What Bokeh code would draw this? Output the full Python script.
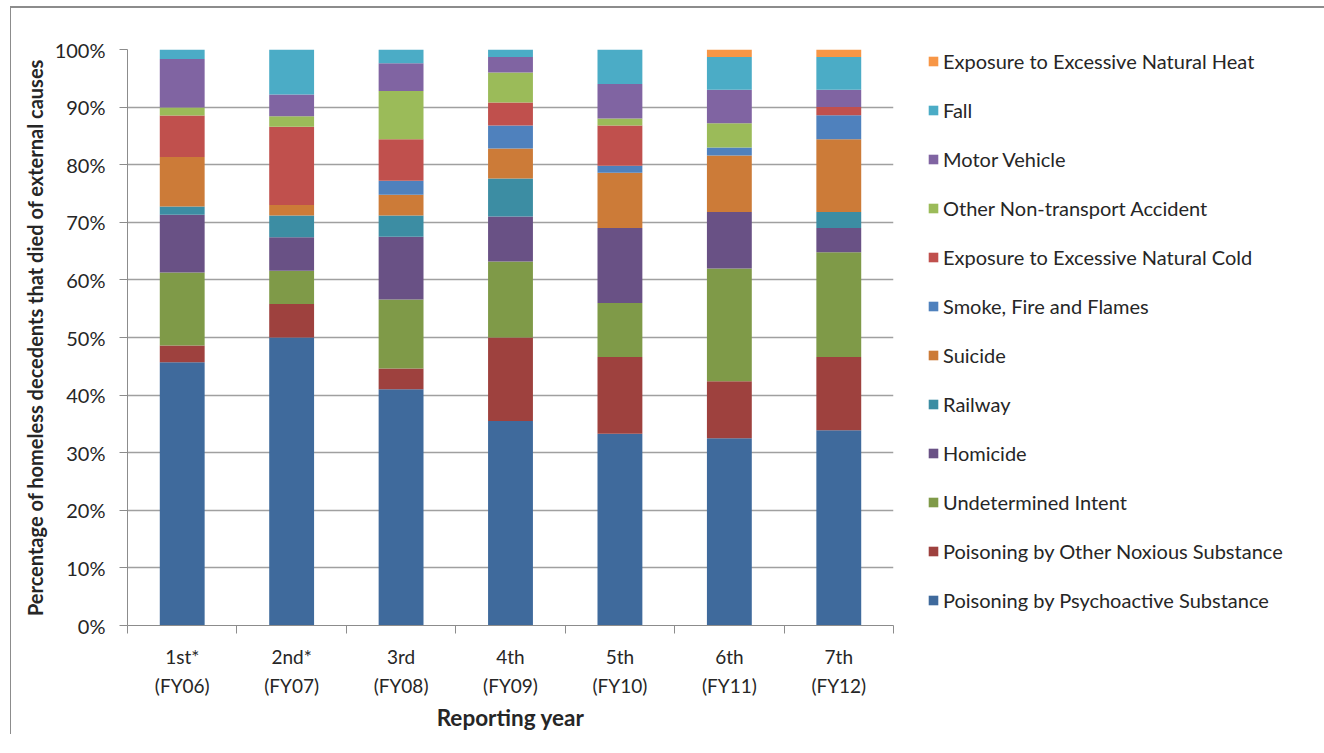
from bokeh.plotting import figure
from bokeh.models import (Range1d, LinearAxis, FixedTicker, PrintfTickFormatter,
                          Legend, LegendItem, ColumnDataSource, Grid)
from bokeh.embed import file_html
from bokeh.resources import INLINE

years = ["1st*\n(FY06)", "2nd*\n(FY07)", "3rd\n(FY08)", "4th\n(FY09)",
         "5th\n(FY10)", "6th\n(FY11)", "7th\n(FY12)"]

# stacked bottom -> top
psychoactive = [45.7, 50.0, 41.0, 35.5, 33.3, 32.5, 33.9]
noxious      = [2.9, 5.8, 3.6, 14.5, 13.3, 9.9, 12.7]
undetermined = [12.7, 5.8, 12.0, 13.2, 9.4, 19.6, 18.2]
homicide     = [10.0, 5.8, 10.9, 7.8, 13.0, 9.8, 4.2]
railway      = [1.45, 3.8, 3.7, 6.6, 0.0, 0.0, 2.8]
suicide      = [8.6, 1.8, 3.6, 5.2, 9.6, 9.8, 12.6]
smoke        = [0.0, 0.0, 2.4, 4.0, 1.2, 1.4, 4.2]
cold         = [7.2, 13.6, 7.2, 4.0, 7.0, 0.0, 1.4]
other_acc    = [1.4, 1.8, 8.4, 5.2, 1.2, 4.2, 0.0]
motor        = [8.4, 3.8, 4.8, 2.7, 6.0, 5.8, 3.0]
fall         = [1.65, 7.8, 2.4, 1.3, 6.0, 5.7, 5.7]
heat         = [0.0, 0.0, 0.0, 0.0, 0.0, 1.3, 1.3]

series_names = ["Poisoning by Psychoactive Substance", "Poisoning by Other Noxious Substance",
                "Undetermined Intent", "Homicide", "Railway", "Suicide",
                "Smoke, Fire and Flames", "Exposure to Excessive Natural Cold",
                "Other Non-transport Accident", "Motor Vehicle", "Fall",
                "Exposure to Excessive Natural Heat"]
series_vals = [psychoactive, noxious, undetermined, homicide, railway, suicide,
               smoke, cold, other_acc, motor, fall, heat]
colors = ["#3F6A9C", "#9E413E", "#7F9A48", "#695185", "#3C8DA3", "#CC7B38",
          "#4F81BD", "#C0504D", "#9BBB59", "#8064A2", "#4BACC6", "#F79646"]

FONT = "Lato"
TXT = "#262626"

n = len(years)
totals = [sum(s[i] for s in series_vals) for i in range(n)]
data = {"x": [i + 0.5 for i in range(n)]}
keys = []
for k, s in enumerate(series_vals):
    key = f"s{k}"
    keys.append(key)
    data[key] = [100.0 * s[i] / totals[i] for i in range(n)]
src = ColumnDataSource(data)

p = figure(width=1306, height=744, output_backend="svg", toolbar_location=None,
           x_range=Range1d(0, n), y_range=Range1d(0, 100),
           x_axis_type=None, y_axis_type=None,
           min_border_left=116, min_border_top=41, min_border_bottom=10, min_border_right=10)
p.styles = {"border-left": "1px solid #8c8c8c", "border-top": "2px solid #8c8c8c",
            "border-right": "1px solid #8c8c8c",
            "margin-left": "10px", "margin-top": "6px"}
p.outline_line_color = None
p.background_fill_color = "white"

renderers = p.vbar_stack(keys, x="x", width=0.41, source=src, color=colors,
                         line_color=None)

# y axis
yax = LinearAxis(ticker=FixedTicker(ticks=list(range(0, 101, 10))),
                 formatter=PrintfTickFormatter(format="%d%%"))
yax.axis_line_color = "#8c8c8c"
yax.major_tick_line_color = "#8c8c8c"
yax.major_tick_out = 8
yax.major_tick_in = 0
yax.minor_tick_line_color = None
yax.major_label_text_font = FONT
yax.major_label_text_font_size = "20px"
yax.major_label_text_color = TXT
yax.major_label_standoff = 14
yax.axis_label = "Percentage of homeless decedents that died of external causes"
yax.axis_label_text_font = FONT
yax.axis_label_text_font_style = "bold"
yax.axis_label_text_font_size = "20px"
yax.axis_label_text_color = TXT
yax.axis_label_standoff = 5
p.add_layout(yax, "left")

# x axis: boundary ticks
xb = LinearAxis(ticker=FixedTicker(ticks=list(range(0, n + 1))),
                major_label_overrides={i: "" for i in range(0, n + 1)})
xb.axis_line_color = "#8c8c8c"
xb.major_tick_line_color = "#8c8c8c"
xb.major_tick_out = 8
xb.major_tick_in = 0
xb.minor_tick_line_color = None
xb.major_label_text_font_size = "1px"
xb.major_label_standoff = 0
p.add_layout(xb, "below")

# x axis: category labels
xl = LinearAxis(ticker=FixedTicker(ticks=[i + 0.5 for i in range(n)]),
                major_label_overrides={i + 0.5: years[i] for i in range(n)})
xl.axis_line_color = None
xl.major_tick_line_color = None
xl.minor_tick_line_color = None
xl.major_label_text_font = FONT
xl.major_label_text_font_size = "19px"
xl.major_label_text_color = TXT
xl.major_label_text_line_height = 1.3
xl.major_label_standoff = 5
xl.axis_label = "Reporting year"
xl.axis_label_text_font = FONT
xl.axis_label_text_font_style = "bold"
xl.axis_label_text_font_size = "22.5px"
xl.axis_label_text_color = TXT
xl.axis_label_standoff = 4
p.add_layout(xl, "below")

p.add_layout(Grid(dimension=1, ticker=yax.ticker, grid_line_color="#a0a0a0",
                  grid_line_width=1.5))

items = [LegendItem(label=series_names[k], renderers=[renderers[k]])
         for k in reversed(range(len(series_names)))]
leg = Legend(items=items, location=(34, 13), orientation="vertical")
leg.border_line_color = None
leg.background_fill_alpha = 0
leg.padding = 0
leg.margin = 0
leg.glyph_width = 12
leg.glyph_height = 12
leg.label_height = 24
leg.spacing = 25
leg.label_standoff = 4
leg.label_text_font = FONT
leg.label_text_font_size = "20px"
leg.label_text_color = TXT
p.add_layout(leg, "right")

p.frame_width = 766
p.frame_height = 576

open("out.html", "w").write(file_html(p, INLINE))
